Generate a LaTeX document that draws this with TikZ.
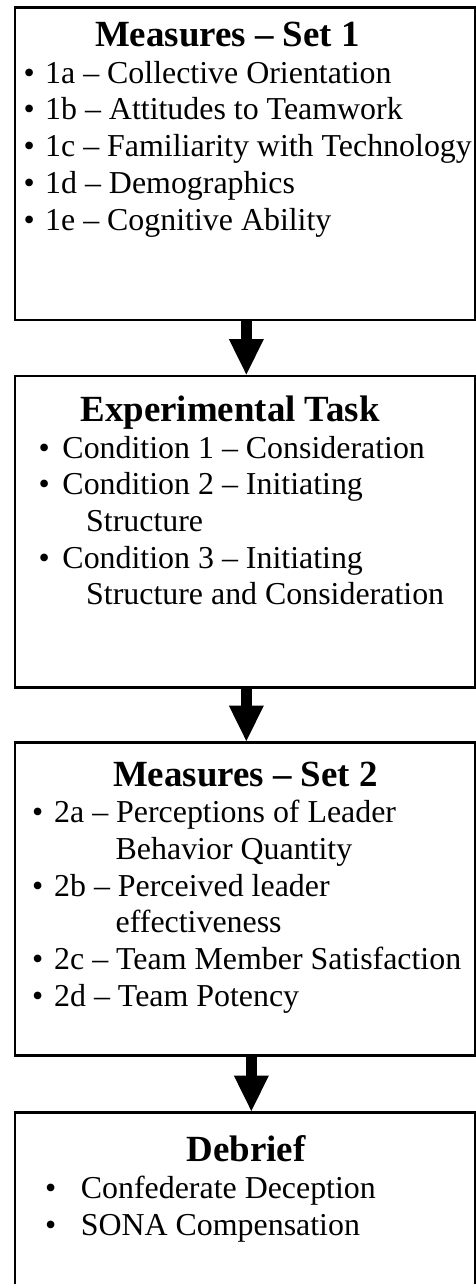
\documentclass[tikz,border=0pt]{standalone}
\usepackage{fontspec}
\setmainfont{Liberation Serif}
\usepackage{tikz}
\usetikzlibrary{arrows.meta}

% bullet hung to the left of the item text
\newcommand{\itembul}[1]{\llap{\textbullet\hspace{#1}}}

\tikzset{
  stage/.style={draw, line width=2.7pt, minimum width=460.5pt, anchor=north west, inner sep=0pt},
  stagetitle/.style={anchor=base, inner sep=0pt, font=\fontsize{36.9}{40}\selectfont\bfseries},
  stageline/.style={anchor=base west, inner sep=0pt, font=\fontsize{31.9}{36}\selectfont},
  flowarrow/.style={line width=11.4pt, -{Triangle[length=35.4pt,width=35pt,line width=0pt]}}
}

\begin{document}
\begin{tikzpicture}[x=1pt,y=1pt,yscale=-1,xscale=1]
    \useasboundingbox (0,0) rectangle (476,1284);

    % Boxes
    \node[stage, minimum height=312.5pt] (set1) at (13.5,6) {};
    \node[stage, minimum height=311.5pt] (task) at (13.5,374.5) {};
    \node[stage, minimum height=313pt] (set2) at (13.5,741) {};
    \node[stage, minimum height=313pt] (debrief) at (13.5,1111) {};

    % Block arrows
    \draw[flowarrow] ([xshift=1.25pt]set1.south) -- ([xshift=1.25pt]task.north);
    \draw[flowarrow] ([xshift=1.25pt]task.south) -- ([xshift=1.25pt]set2.north);
    \draw[flowarrow] ([xshift=6.25pt]set2.south) -- ([xshift=6.25pt]debrief.north);

    % Text Node
    \node[stagetitle] (t1) at (227.5,46.7) {Measures -- Set 1};
    \node[stageline] (l1a) at (45,83.3) {\itembul{10.5pt}1a -- Collective Orientation};
    \node[stageline] (l1b) at (45,120) {\itembul{10.5pt}1b -- Attitudes to Teamwork};
    \node[stageline] (l1c) at (45,156.7) {\itembul{10.5pt}1c -- Familiarity with Technology};
    \node[stageline] (l1d) at (45,193.3) {\itembul{10.5pt}1d -- Demographics};
    \node[stageline] (l1e) at (45,230) {\itembul{10.5pt}1e -- Cognitive Ability};

    % Text Node
    \node[stagetitle] (t2) at (230,421) {Experimental Task};
    \node[stageline] (c1) at (62.3,458) {\itembul{12.8pt}Condition 1 -- Consideration};
    \node[stageline] (c2) at (62.3,494.7) {\itembul{12.8pt}Condition 2 -- Initiating};
    \node[stageline] (c2b) at (86,531.3) {Structure};
    \node[stageline] (c3) at (62.3,568) {\itembul{12.8pt}Condition 3 -- Initiating};
    \node[stageline] (c3b) at (86,604.7) {Structure and Consideration};

    % Text Node
    \node[stagetitle] (t3) at (245.5,786) {Measures -- Set 2};
    \node[stageline] (l2a) at (54,822.7) {\itembul{11pt}2a -- Perceptions of Leader};
    \node[stageline] (l2ab) at (115.5,859.3) {Behavior Quantity};
    \node[stageline] (l2b) at (54,896) {\itembul{11pt}2b -- Perceived leader};
    \node[stageline] (l2bb) at (115.5,932.7) {effectiveness};
    \node[stageline] (l2c) at (54,969.3) {\itembul{11pt}2c -- Team Member Satisfaction};
    \node[stageline] (l2d) at (54,1006) {\itembul{11pt}2d -- Team Potency};

    % Text Node
    \node[stagetitle] (t4) at (246,1161) {Debrief};
    \node[stageline] (d1) at (80.7,1198) {\itembul{24.7pt}Confederate Deception};
    \node[stageline] (d2) at (80.7,1235) {\itembul{24.7pt}SONA Compensation};

\end{tikzpicture}
\end{document}
